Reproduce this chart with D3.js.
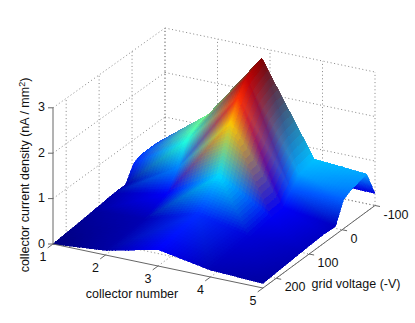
<!DOCTYPE html>
<html>
<head>
<meta charset="utf-8">
<script src="https://cdn.jsdelivr.net/npm/d3@7"></script>
<style>
  html, body { margin: 0; background: #fff; }
  svg { display: block; }
  text { font-family: "Liberation Sans", Arial, sans-serif; font-size: 12.5px; fill: #111; }
</style>
</head>
<body>
<svg id="chart" width="415" height="323"></svg>
<script>
// collector number / grid voltage / current density grid
const collectors = [1, 2, 3, 4, 5];
const voltages = [-100, -75, -30, -5, 20, 55, 120, 240];
const densityAtM100 = [0.30, 0.50, 1.00, 0.30, 0.27];
const densityAtM75 = [0.55, 1.45, 2.95, 0.93, 0.84];
const densityAtM30 = [0.55, 1.35, 2.75, 0.85, 0.75];
const densityAtM5 = [0.48, 1.20, 2.45, 0.60, 0.65];
const densityAt20 = [0.13, 0.75, 2.00, 0.35, 0.18];
const densityAt55 = [0.13, 0.35, 1.00, 0.33, 0.20];
const densityAt120 = [0.08, 0.15, 0.50, 0.25, 0.17];
const densityAt240 = [0.00, 0.10, 0.36, 0.15, 0.10];
const density = [densityAtM100, densityAtM75, densityAtM30, densityAtM5, densityAt20, densityAt55, densityAt120, densityAt240];

const collectorTicks = [1, 2, 3, 4, 5];
const voltageTicks = [200, 100, 0, -100];
const densityTicks = [0, 1, 2, 3];

const svg = d3.select("#chart");

// 3D box to screen (fixed view)
const cFrac = d3.scaleLinear().domain([1, 5]).range([0, 1]);
const vFrac = d3.scaleLinear().domain([240, -100]).range([0, 1]);
const zUnit = d3.scaleLinear().domain([0, 1]).range([45.4, 44.5]);
function project(c, v, z) {
  const s = cFrac(c), t = vFrac(v);
  return [53 + 210 * s + 112 * t, 244 + 44 * s - 82.5 * t - z * zUnit(t)];
}

// jet colormap on z range
const jet = d3.scaleLinear()
  .domain([0, 0.125, 0.375, 0.625, 0.875, 1].map(d => d * 2.95))
  .range(["#000080", "#0000ff", "#00ffff", "#ffff00", "#ff0000", "#800000"])
  .interpolate(d3.interpolateRgb)
  .clamp(true);

// dotted box grid
const grid = svg.append("g").attr("fill", "none").attr("stroke", "#777")
  .attr("stroke-width", 0.9).attr("stroke-dasharray", "1 2.6");
function gridLine(a, b) {
  const p = project(...a), q = project(...b);
  grid.append("line").attr("x1", p[0]).attr("y1", p[1]).attr("x2", q[0]).attr("y2", q[1]);
}
densityTicks.forEach(z => {
  gridLine([1, 240, z], [1, -100, z]);
  gridLine([1, -100, z], [5, -100, z]);
});
voltageTicks.forEach(v => {
  gridLine([1, v, 0], [1, v, 3]);
  gridLine([1, v, 0], [5, v, 0]);
});
collectorTicks.forEach(c => {
  gridLine([c, -100, 0], [c, -100, 3]);
  gridLine([c, 240, 0], [c, -100, 0]);
});

// surface: colours interpolated in RGB across each triangle
const triangles = [];
for (let k = 0; k < voltages.length - 1; k++) {
  for (let i = 0; i < collectors.length - 1; i++) {
    const a = [i, k], b = [i + 1, k], c = [i, k + 1], d = [i + 1, k + 1];
    if (collectors[i] < 3) triangles.push([a, b, c], [b, d, c]);
    else triangles.push([a, b, d], [a, d, c]);
  }
}
const steps = 16;
const facets = [];
triangles.forEach(tri => {
  const v = tri.map(([i, k]) => ({
    c: collectors[i], g: voltages[k], z: density[k][i],
    rgb: d3.rgb(jet(density[k][i]))
  }));
  const at = (u, w) => {
    const o = 1 - u - w;
    return {
      p: project(o * v[0].c + u * v[1].c + w * v[2].c,
                 o * v[0].g + u * v[1].g + w * v[2].g,
                 o * v[0].z + u * v[1].z + w * v[2].z),
      r: o * v[0].rgb.r + u * v[1].rgb.r + w * v[2].rgb.r,
      gr: o * v[0].rgb.g + u * v[1].rgb.g + w * v[2].rgb.g,
      b: o * v[0].rgb.b + u * v[1].rgb.b + w * v[2].rgb.b
    };
  };
  for (let m = 0; m < steps; m++) {
    for (let n = 0; n < steps - m; n++) {
      const h = 1 / steps;
      const cells = [[at(m * h, n * h), at((m + 1) * h, n * h), at(m * h, (n + 1) * h)]];
      if (m + n < steps - 1) cells.push([at((m + 1) * h, n * h), at((m + 1) * h, (n + 1) * h), at(m * h, (n + 1) * h)]);
      cells.forEach(pts => {
        const col = d3.rgb(d3.mean(pts, p => p.r), d3.mean(pts, p => p.gr), d3.mean(pts, p => p.b)).formatHex();
        facets.push({ d: pts.map(p => p.p.join(",")).join(" "), col });
      });
    }
  }
});
svg.append("g").attr("shape-rendering", "crispEdges")
  .selectAll("polygon").data(facets).enter().append("polygon")
  .attr("points", d => d.d)
  .attr("fill", d => d.col)
  .attr("stroke", d => d.col)
  .attr("stroke-width", 0.6);

// axes
const axis = svg.append("g").attr("stroke", "#666").attr("stroke-width", 1).attr("fill", "none");
function axisLine(a, b) {
  axis.append("line").attr("x1", a[0]).attr("y1", a[1]).attr("x2", b[0]).attr("y2", b[1]);
}
axisLine(project(1, 240, 0), project(1, 240, 3));
axisLine(project(1, 240, 0), project(5, 240, 0));
axisLine(project(5, 240, 0), project(5, -100, 0));

const labels = svg.append("g");
densityTicks.forEach(z => {
  const p = project(1, 240, z);
  axisLine(p, [p[0] - 5, p[1]]);
  labels.append("text").attr("x", p[0] - 8).attr("y", p[1] + 3.5).attr("text-anchor", "end").text(z);
});
collectorTicks.forEach(c => {
  const p = project(c, 240, 0);
  axisLine(p, project(c, 240 + 16, 0));
  labels.append("text").attr("x", p[0] - 10).attr("y", p[1] + 17).attr("text-anchor", "middle").text(c);
});
voltageTicks.forEach(v => {
  const p = project(5, v, 0);
  axisLine(p, [p[0] + 5, p[1] + 1]);
  labels.append("text").attr("x", p[0] + 8.5).attr("y", p[1] + 13).attr("text-anchor", "start").text(v);
});

labels.append("text").attr("x", 132).attr("y", 298).attr("text-anchor", "middle").text("collector number");
labels.append("text").attr("x", 356).attr("y", 288).attr("text-anchor", "middle").text("grid voltage (-V)");
const yLabel = labels.append("text").attr("text-anchor", "middle")
  .attr("transform", "translate(29,175) rotate(-90)")
  .text("collector current density (nA / mm");
yLabel.append("tspan").attr("dy", -4).style("font-size", "9px").text("2");
yLabel.append("tspan").attr("dy", 4).text(")");
</script>
</body>
</html>
